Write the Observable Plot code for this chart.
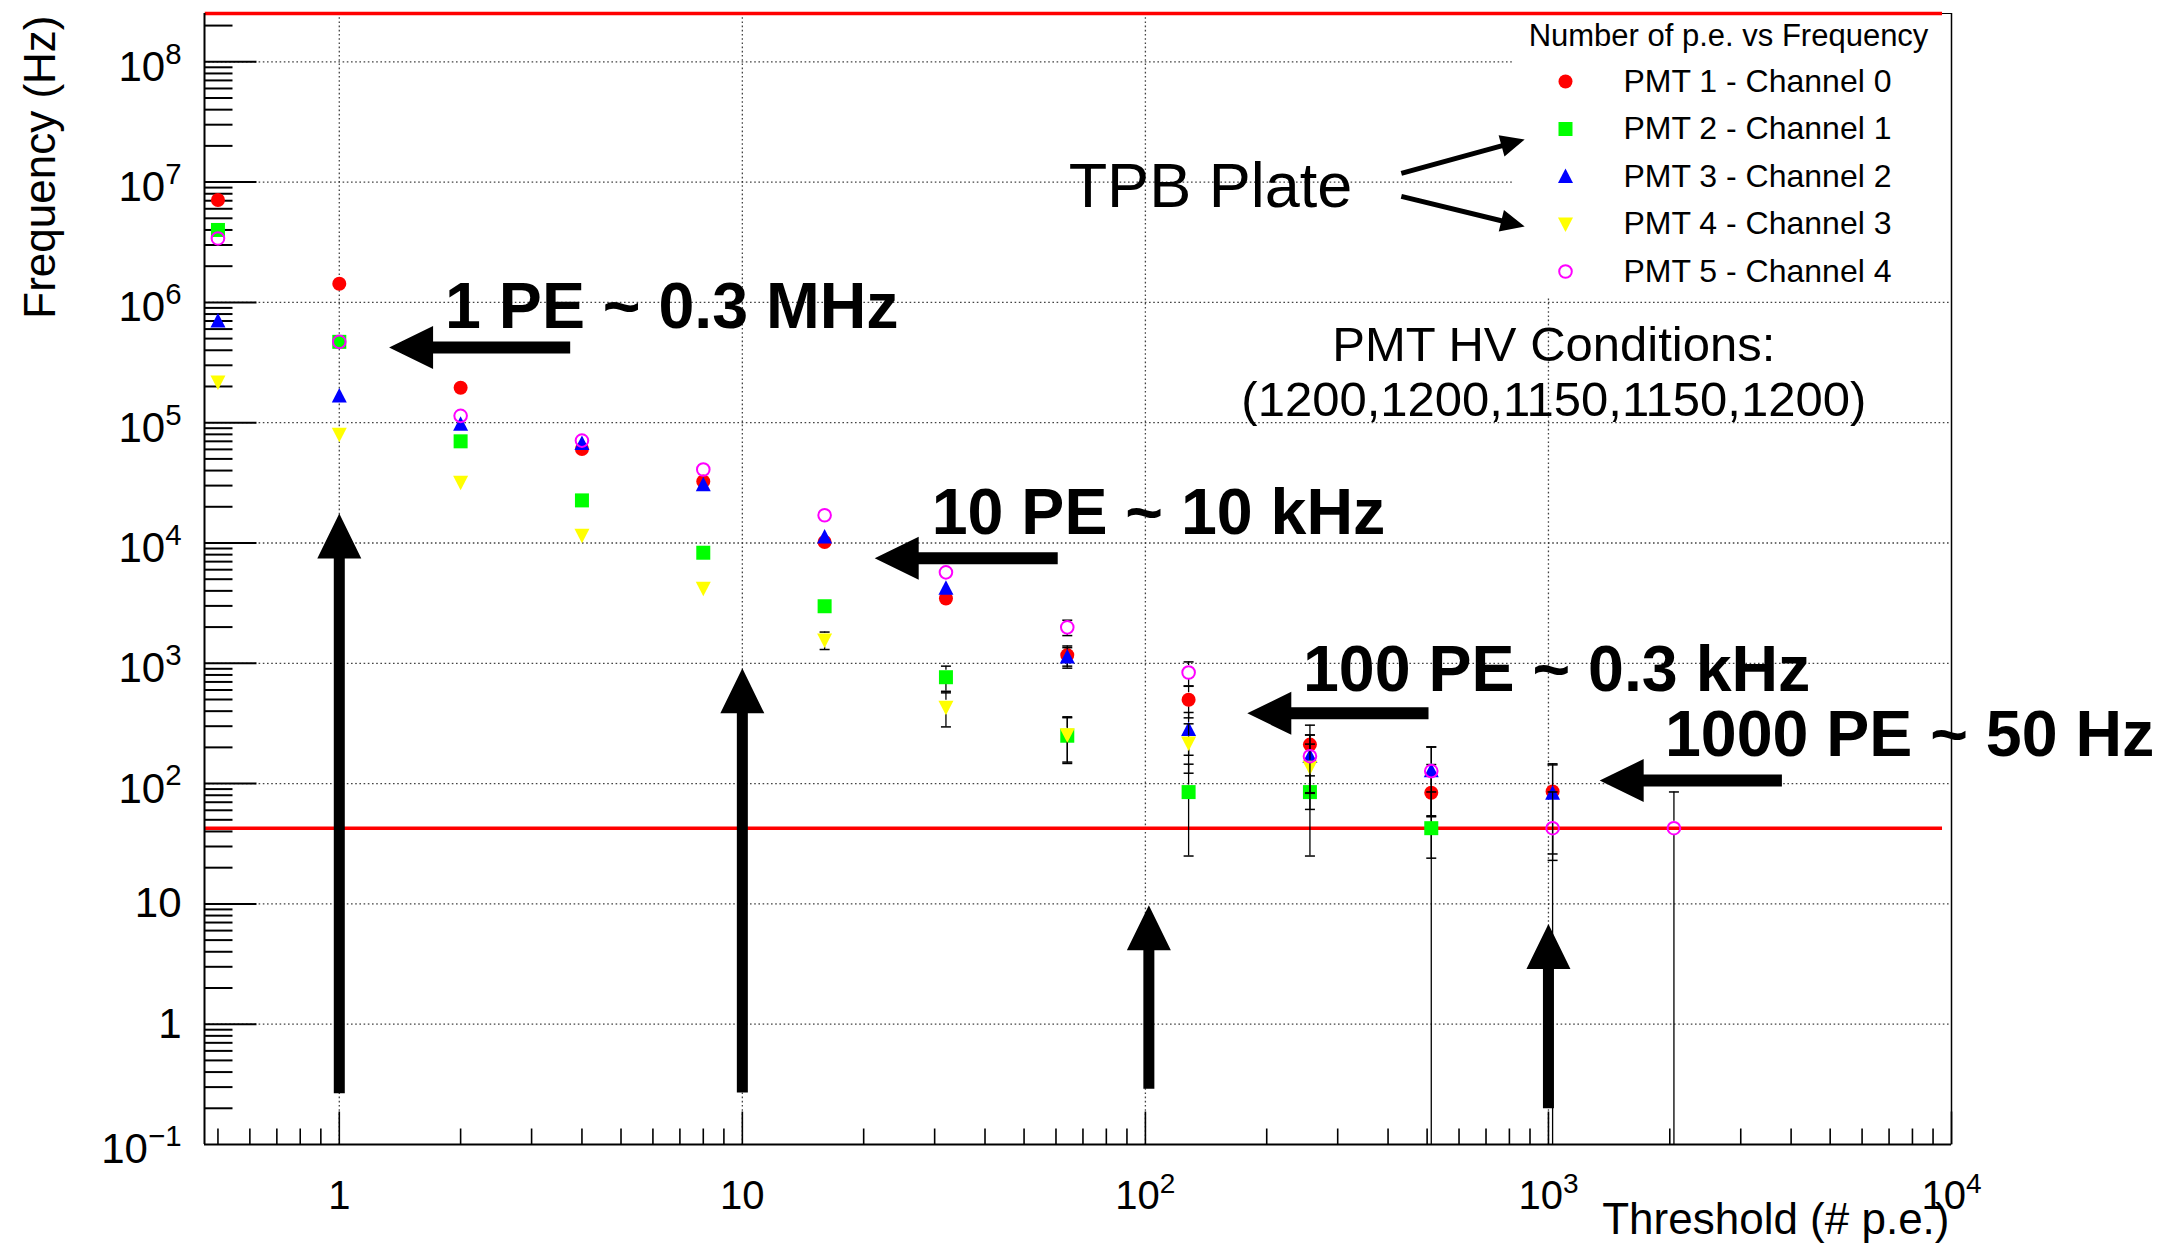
<!DOCTYPE html>
<html>
<head>
<meta charset="utf-8">
<script src="https://cdn.jsdelivr.net/npm/d3@7"></script>
<script src="https://cdn.jsdelivr.net/npm/@observablehq/plot@0.6"></script>
<style>
  html, body { margin: 0; padding: 0; background: #fff; }
  svg { display: block; }
</style>
</head>
<body>
<div id="chart"></div>
<script>
// Trigger thresholds (# p.e.) scanned on every channel
const thresholds = [0.5, 1, 2, 4, 8, 16, 32, 64, 128, 256, 512, 1024, 2048];

// Measured trigger rate (Hz) per channel; null = no counts at that threshold
const pmt1Rate = [7.1e6, 1.43e6, 1.95e5, 6.05e4, 3.25e4, 1.02e4, 3460, 1170, 498, 211, 84, 86, null];
const pmt2Rate = [4.0e6, 4.7e5, 7.0e4, 2.26e4, 8300, 2980, 766, 250, 85, 85, 42.6, null, null];
const pmt3Rate = [7.0e5, 1.67e5, 9.7e4, 6.7e4, 3.05e4, 1.12e4, 4200, 1130, 281, 168, 128, 83, null];
const pmt4Rate = [2.18e5, 8.0e4, 3.2e4, 1.16e4, 4200, 1560, 432, 255, 218, 137, null, null, null];
const pmt5Rate = [3.4e6, 4.7e5, 1.14e5, 7.1e4, 4.08e4, 1.7e4, 5700, 1990, 838, 169, 127, 42.6, 42.6];

// Statistical uncertainty on each rate (Hz)
const pmt1Err = [17400, 7800, 2880, 1610, 1180, 660, 384, 223, 146, 95, 60, 60, null];
const pmt2Err = [13000, 4470, 1730, 980, 595, 356, 181, 103, 60, 60, 42.6, null, null];
const pmt3Err = [5460, 2670, 2030, 1690, 1140, 690, 423, 219, 109, 85, 74, 60, null];
const pmt4Err = [3050, 1850, 1170, 703, 423, 258, 136, 104, 96, 76, null, null, null];
const pmt5Err = [12000, 4470, 2200, 1740, 1320, 850, 493, 291, 189, 85, 74, 42.6, 42.6];

const seriesNames = ["PMT 1 - Channel 0", "PMT 2 - Channel 1", "PMT 3 - Channel 2", "PMT 4 - Channel 3", "PMT 5 - Channel 4"];
const seriesRates = [pmt1Rate, pmt2Rate, pmt3Rate, pmt4Rate, pmt5Rate];
const seriesErrors = [pmt1Err, pmt2Err, pmt3Err, pmt4Err, pmt5Err];

// Axis ticks
const xMajorTicks = [1, 10, 100, 1000, 10000];
const yMajorTicks = [0.1, 1, 10, 100, 1e3, 1e4, 1e5, 1e6, 1e7, 1e8];

// Reference levels: single-count rate and full-scale rate
const referenceLevels = [42.6, 2.52e8];
const referenceSpan = [0.465, 9500];

// Callout texts and arrows (data coordinates)
const peCallouts = [
  {label: "1 PE ~ 0.3 MHz", x: 1.83, y: 9.12e5},
  {label: "10 PE ~ 10 kHz", x: 29.5, y: 1.77e4},
  {label: "100 PE ~ 0.3 kHz", x: 246, y: 877},
  {label: "1000 PE ~ 50 Hz", x: 1945, y: 253}
];
const peArrows = [
  {x1: 3.74, y1: 4.22e5, x2: 1.329, y2: 4.22e5},
  {x1: 60.6, y1: 7.45e3, x2: 21.3, y2: 7.45e3},
  {x1: 504, y1: 384, x2: 179, y2: 384},
  {x1: 3795, y1: 106, x2: 1340, y2: 106},
  {x1: 1, y1: 0.267, x2: 1, y2: 1.76e4},
  {x1: 10, y1: 0.27, x2: 10, y2: 908},
  {x1: 102, y1: 0.29, x2: 102, y2: 9.75},
  {x1: 1000, y1: 0.2, x2: 1000, y2: 6.8}
];
const plateLabel = {label: "TPB Plate", x: 64.5, y: 9.06e6};
const plateArrows = [
  {x1: 431.5, y1: 1.18e7, x2: 873, y2: 2.26e7},
  {x1: 431.5, y1: 7.6e6, x2: 873, y2: 4.28e6}
];
const hvNote = [
  {label: "PMT HV Conditions:", x: 1031, y: 4.39e5},
  {label: "(1200,1200,1150,1150,1200)", x: 1031, y: 1.53e5}
];
const legendTitle = "Number of p.e. vs Frequency";

// ---- layout & style ----
const W = 2176, H = 1244;
const margin = {left: 204, right: 225, top: 13, bottom: 100};
const xDomain = [0.463, 1e4];
const yDomain = [0.1, 2.52e8];
const font = "'Liberation Sans', Arial, Helvetica, sans-serif";
const colors = ["#ff0000", "#00ff00", "#0000ff", "#ffff00", "#ff00ff"];
const markerHalf = 7;

const xScale = Plot.scale({x: {type: "log", domain: xDomain, range: [margin.left, W - margin.right]}});
const yScale = Plot.scale({y: {type: "log", domain: yDomain, range: [H - margin.bottom, margin.top]}});

// marker shapes
const circleShape = {draw(c) { c.moveTo(7, 0); c.arc(0, 0, 7, 0, 2 * Math.PI); c.closePath(); }};
const ringShape = {draw(c) { c.moveTo(6.3, 0); c.arc(0, 0, 6.3, 0, 2 * Math.PI); c.closePath(); }};
const squareShape = {draw(c) { const s = 7; c.moveTo(-s, -s); c.lineTo(s, -s); c.lineTo(s, s); c.lineTo(-s, s); c.closePath(); }};
const triUpShape = {draw(c) { c.moveTo(0, -8); c.lineTo(7.5, 6.5); c.lineTo(-7.5, 6.5); c.closePath(); }};
const triDownShape = {draw(c) { c.moveTo(0, 8); c.lineTo(7.5, -6.5); c.lineTo(-7.5, -6.5); c.closePath(); }};
const capShape = {draw(c) { c.moveTo(-5, 0); c.lineTo(5, 0); }};
const markerStyles = [
  {symbol: circleShape, fill: colors[0], stroke: "none"},
  {symbol: squareShape, fill: colors[1], stroke: "none"},
  {symbol: triUpShape, fill: colors[2], stroke: "none"},
  {symbol: triDownShape, fill: colors[3], stroke: "none"},
  {symbol: ringShape, fill: "none", stroke: colors[4], strokeWidth: 2}
];

const lineShape = {draw(c, l) { c.moveTo(0, 0); c.lineTo(0, -l); }};
function arrowShape(w, hl, hw) {
  return {draw(c, l) {
    const b = l - hl;
    c.moveTo(-w, 0); c.lineTo(-w, -b); c.lineTo(-hw, -b); c.lineTo(0, -l);
    c.lineTo(hw, -b); c.lineTo(w, -b); c.lineTo(w, 0); c.closePath();
  }};
}

function arrowMark(a, shape) {
  const px1 = xScale.apply(a.x1), py1 = yScale.apply(a.y1);
  const px2 = xScale.apply(a.x2), py2 = yScale.apply(a.y2);
  const len = Math.hypot(px2 - px1, py2 - py1);
  const angle = Math.atan2(px2 - px1, -(py2 - py1)) * 180 / Math.PI;
  return Plot.vector([a], {x: d => d.x1, y: d => d.y1, length: len, rotate: angle, anchor: "start",
    shape, fill: "black", stroke: "none"});
}

function minorTicks(lo, hi, dMin, dMax) {
  const out = [];
  for (let e = dMin; e <= dMax; e++) for (let m = 2; m <= 9; m++) {
    const v = m * Math.pow(10, e);
    if (v >= lo && v <= hi) out.push(v);
  }
  return out;
}
const xMinor = minorTicks(xDomain[0], xDomain[1], -1, 3);
const yMinor = minorTicks(yDomain[0], yDomain[1], -1, 8);

function powLabel(v) {
  const e = Math.round(Math.log10(v));
  if (e === 0) return "1";
  if (e === 1) return "10";
  return "10^" + (e < 0 ? "\u2212" + (-e) : e);
}

// data marks: error bars (kept outside the marker), caps, markers — one series at a time
const seriesMarks = seriesRates.flatMap((rates, k) => {
  const rows = thresholds.map((t, i) => {
    const v = rates[i], e = seriesErrors[k][i];
    if (v == null) return null;
    const py = yScale.apply(v);
    const hi = v + e, lo = v - e;
    return {
      t, v, hi, lo,
      edgeTop: yScale.invert(py - markerHalf),
      edgeBottom: yScale.invert(py + markerHalf),
      showHi: py - yScale.apply(hi) > markerHalf,
      showLo: lo <= 0 || yScale.apply(lo) - py > markerHalf
    };
  }).filter(d => d);
  const up = rows.filter(d => d.showHi), down = rows.filter(d => d.showLo);
  return [
    Plot.ruleX(up, {x: "t", y1: "edgeTop", y2: "hi", stroke: "black", strokeWidth: 1.3}),
    Plot.ruleX(down, {x: "t", y1: d => Math.max(d.lo, yDomain[0]), y2: "edgeBottom", stroke: "black", strokeWidth: 1.3}),
    Plot.dot(down.filter(d => d.lo > 0), {x: "t", y: "lo", symbol: capShape, fill: "none", stroke: "black", strokeWidth: 1.5}),
    Plot.dot(up, {x: "t", y: "hi", symbol: capShape, fill: "none", stroke: "black", strokeWidth: 1.5}),
    Plot.dot(rows, {x: "t", y: "v", ...markerStyles[k]})
  ];
});

// legend (inside the frame, top-right)
const legendMarks = [
  Plot.frame({fill: "white", stroke: "none", insetLeft: 1308, insetBottom: 847}),
  Plot.text([legendTitle], {frameAnchor: "top-right", text: d => d, dx: -223, dy: 23, textAnchor: "middle", lineAnchor: "middle", fontSize: 31, fill: "black"}),
  ...seriesNames.flatMap((name, k) => [
    Plot.dot([name], {frameAnchor: "top-right", dx: -386, dy: 68 + 47.5 * k, ...markerStyles[k]}),
    Plot.text([name], {frameAnchor: "top-right", text: d => d, dx: -328, dy: 68 + 47.5 * k, textAnchor: "start", lineAnchor: "middle", fontSize: 32, fill: "black"})
  ])
];

const gridStyle = {stroke: "#222", strokeOpacity: 0.85, strokeWidth: 1.3, strokeDasharray: "1.6,2.6"};

const chart = Plot.plot({
  width: W, height: H,
  marginLeft: margin.left, marginRight: margin.right, marginTop: margin.top, marginBottom: margin.bottom,
  x: {type: "log", domain: xDomain},
  y: {type: "log", domain: yDomain},
  style: {fontFamily: font, background: "white", color: "black"},
  marks: [
    Plot.gridX({ticks: [1, 10, 100, 1000], ...gridStyle}),
    Plot.gridY({ticks: yMajorTicks.slice(1), ...gridStyle}),
    ...legendMarks.slice(0, 1),
    // frame edges
    Plot.ruleX([xDomain[1]], {stroke: "black", strokeWidth: 1.5}),
    Plot.ruleY([yDomain[1]], {stroke: "black", strokeWidth: 1}),
    // reference levels
    Plot.ruleY(referenceLevels, {y: d => d, x1: referenceSpan[0], x2: referenceSpan[1], stroke: "#ff0000", strokeWidth: 3.5}),
    Plot.ruleX([xDomain[0]], {stroke: "black", strokeWidth: 2}),
    Plot.ruleY([yDomain[0]], {stroke: "black", strokeWidth: 2}),
    // inward ticks
    Plot.vector(yMajorTicks.slice(1), {x: xDomain[0], y: d => d, length: 52, rotate: 90, anchor: "start", shape: lineShape, stroke: "black", strokeWidth: 2, strokeLinecap: "butt"}),
    Plot.vector(yMinor, {x: xDomain[0], y: d => d, length: 28, rotate: 90, anchor: "start", shape: lineShape, stroke: "black", strokeWidth: 2, strokeLinecap: "butt"}),
    Plot.vector(xMajorTicks, {x: d => d, y: yDomain[0], length: 33, rotate: 0, anchor: "start", shape: lineShape, stroke: "black", strokeWidth: 1.6, strokeLinecap: "butt"}),
    Plot.vector(xMinor, {x: d => d, y: yDomain[0], length: 16, rotate: 0, anchor: "start", shape: lineShape, stroke: "black", strokeWidth: 1.6, strokeLinecap: "butt"}),
    Plot.axisX({anchor: "bottom", ticks: xMajorTicks, tickFormat: powLabel, tickSize: 0, tickPadding: 36, fontSize: 40, label: null}),
    Plot.axisY({anchor: "left", ticks: yMajorTicks, tickFormat: powLabel, tickSize: 0, tickPadding: 23, fontSize: 42, label: null}),
    Plot.text(["Frequency (Hz)"], {frameAnchor: "top-left", text: d => d, rotate: -90, dx: -164, dy: 2, textAnchor: "end", lineAnchor: "middle", fontSize: 44, fill: "black"}),
    Plot.text(["Threshold (# p.e.)"], {frameAnchor: "bottom-right", text: d => d, dx: -2, dy: 75, textAnchor: "end", lineAnchor: "middle", fontSize: 44, fill: "black"}),
    // measurements
    ...seriesMarks,
    // annotations
    ...peArrows.map((a, i) => arrowMark(a, i < 4 ? arrowShape(6, 44, 21.5) : arrowShape(5.5, 45, 22))),
    ...plateArrows.map(a => arrowMark(a, arrowShape(2.5, 24, 11))),
    Plot.text(peCallouts, {x: "x", y: "y", text: "label", textAnchor: "start", lineAnchor: "middle", fontSize: 64.5, fontWeight: "bold", fill: "black"}),
    Plot.text([plateLabel], {x: "x", y: "y", text: "label", textAnchor: "start", lineAnchor: "middle", fontSize: 63, fill: "black"}),
    Plot.text(hvNote, {x: "x", y: "y", text: "label", textAnchor: "middle", lineAnchor: "middle", fontSize: 49, fill: "black"}),
    ...legendMarks.slice(1)
  ]
});

// render powers of ten with superscript exponents
d3.select(chart).selectAll("g[aria-label='x-axis tick label'] text, g[aria-label='y-axis tick label'] text").each(function () {
  const m = /^10\^(.+)$/.exec(this.textContent);
  if (!m) return;
  const t = d3.select(this).text("10");
  if (this.parentNode.getAttribute("aria-label").startsWith("y")) t.attr("dy", "0.13em");
  t.append("tspan").attr("dy", "-0.58em").attr("font-size", "0.7em").text(m[1]);
});

document.getElementById("chart").appendChild(chart);
</script>
</body>
</html>
